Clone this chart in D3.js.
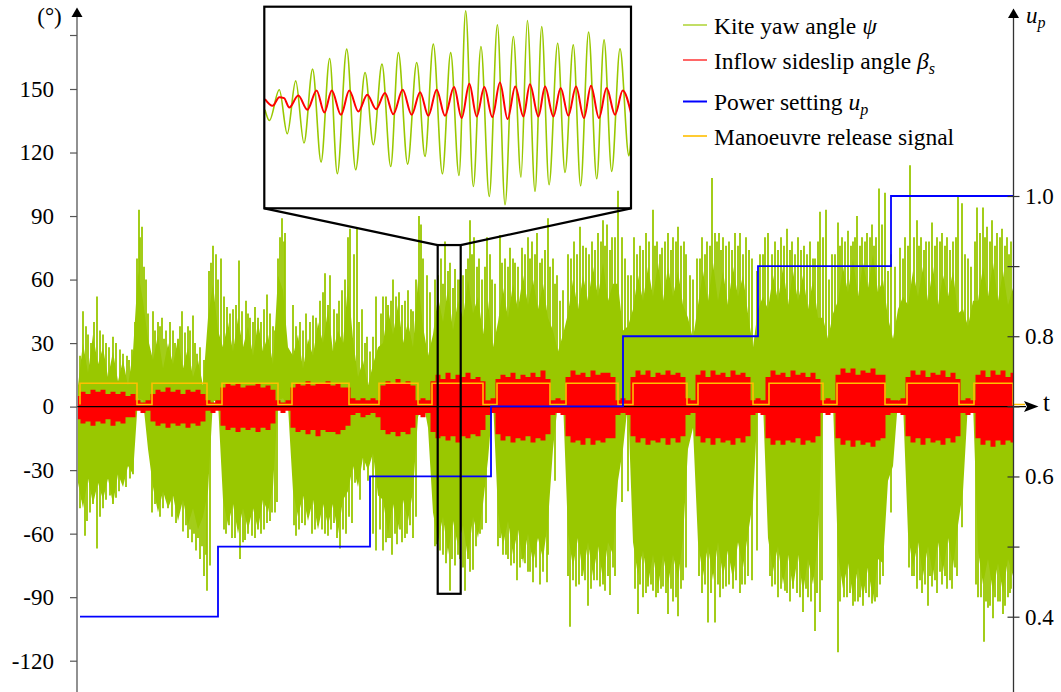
<!DOCTYPE html>
<html><head><meta charset="utf-8">
<script src="https://cdn.jsdelivr.net/npm/d3@7"></script>
<style>
body{margin:0;background:#fff}
svg{display:block}
</style>
</head><body>
<svg id="c" width="1061" height="692"></svg>
<script>
// ---------------- DATA ----------------
const sampleStart = 1, sampleStep = 5;
// kite yaw angle psi: dense-band upper / lower envelope (deg)
const yawHi = [
 10,30,16,34,20,28,14,26,12,22,10,26,
 64,50,32,
 22,34,18,30,20,32,18,28,14,22,10,
 42,58,36,
 28,40,26,42,28,38,24,40,26,34,20,
 62,55,28,
 24,34,18,32,24,40,30,46,26,36,30,58,
 32,14,22,10,20,28,
 30,46,34,48,30,40,28,
 60,38,24,
 34,52,40,56,36,50,42,60,44,52,34,
 50,28,
 40,56,42,58,46,62,48,60,46,58,42,
 36,26,34,
 44,60,46,62,50,66,52,68,50,58,
 58,36,38,
 46,62,50,66,52,68,50,66,52,64,48,
 42,32,
 48,64,50,68,50,64,48,66,52,62,44,
 28,46,52,
 46,62,50,66,48,64,50,62,46,60,42,
 42,32,44,
 50,66,54,70,52,68,56,72,54,60,
 42,32,46,52,
 48,64,52,66,50,66,48,62,52,64,44,
 46,38,50,
 50,66,52,68,50,64,48,56];
const yawLo = [
 -36,-48,-34,-46,-36,-44,-34,-46,-32,-38,-28,-32,
 4,3,-20,
 -38,-50,-40,-48,-42,-54,-44,-56,-48,-58,-52,
 -40,3,2,
 -44,-56,-46,-60,-48,-58,-48,-58,-44,-50,-38,
 3,4,0,
 -40,-52,-42,-54,-44,-58,-46,-56,-46,-60,-44,-40,
 -28,-38,-24,-30,-22,-42,
 -44,-60,-46,-58,-44,-54,-40,
 -5,3,-10,
 -50,-64,-52,-70,-54,-66,-56,-72,-52,-62,-46,
 -25,3,
 -50,-66,-54,-70,-58,-74,-60,-74,-62,-72,-54,
 -20,2,3,
 -60,-76,-62,-80,-64,-80,-66,-82,-64,-70,
 -35,-20,2,
 -64,-80,-68,-84,-70,-86,-70,-84,-70,-82,-62,
 -20,-10,
 -64,-80,-66,-82,-64,-80,-68,-82,-64,-76,-60,
 -45,3,2,
 -62,-78,-66,-84,-70,-86,-70,-88,-72,-84,-64,
 2,3,2,
 -70,-86,-74,-90,-76,-90,-76,-92,-72,-74,
 -35,-28,3,2,
 -60,-76,-64,-80,-66,-80,-64,-78,-62,-76,-56,
 -40,2,2,
 -68,-84,-72,-88,-74,-88,-72,-80];
// tallest individual yaw peaks [time, deg]
const yawPeaksUp = [
 [6,45],[11,34],[20,52],[23,36],[29,30],[36,33],[43,27],[50,24],[55,27],[60,70],[62,93],[65,85],[67,66],[71,44],
 [76,45],[81,40],[85,42],[89,36],[96,36],[101,32],[105,45],[111,38],[116,43],[120,25],[132,64],[136,76],[139,72],[144,70],
 [150,47],[156,46],[162,69],[169,50],[173,42],[178,47],[184,40],[190,53],[196,38],[203,80],[205,89],[208,82],
 [216,48],[223,40],[229,44],[236,43],[243,50],[248,63],[253,62],[260,44],[265,55],[271,80],[273,84],[280,84],
 [285,46],[290,33],[296,33],[299,52],[306,52],[311,48],[316,60],[319,52],[325,48],[331,55],[336,45],[342,90],[344,86],[350,62],
 [358,60],[364,70],[368,78],[373,68],[378,65],[383,60],[389,65],[393,88],[397,80],[402,70],[410,80],[413,72],[418,58],
 [423,81],[428,70],[433,75],[438,68],[445,75],[451,80],[455,78],[460,82],[465,70],[471,89],[476,70],[480,62],[486,55],
 [491,72],[497,78],[503,85],[509,75],[515,78],[521,82],[526,88],[530,86],[535,80],[541,102],[545,80],[551,62],
 [557,80],[563,76],[569,82],[576,93],[580,78],[585,75],[591,82],[596,80],[601,85],[607,78],[613,62],
 [620,70],[625,80],[630,78],[635,108],[638,82],[642,82],[646,80],[652,78],[658,82],[663,82],[669,80],[675,70],
 [683,72],[688,80],[691,82],[698,78],[704,80],[710,84],[715,78],[721,80],[727,76],[733,78],[738,70],[743,92],[749,93],
 [755,72],[761,87],[765,80],[771,83],[776,78],[780,90],[785,80],[790,82],[795,86],[799,80],[802,103],[808,101],
 [814,72],[823,75],[828,80],[833,114],[840,88],[844,80],[849,78],[855,87],[860,80],[865,82],[870,80],[876,78],[881,99],[885,96],
 [891,70],[900,94],[906,94],[910,85],[915,88],[920,82],[925,84],[930,80],[934,78]];
const yawPeaksDown = [
 [3,-48],[8,-61],[13,-50],[20,-67],[26,-48],[33,-42],[39,-43],[46,-36],[53,-34],
 [75,-50],[83,-52],[91,-48],[99,-55],[106,-59],[111,-62],[115,-64],[119,-68],[123,-72],[127,-80],[130,-87],[133,-75],
 [149,-60],[155,-62],[163,-72],[168,-63],[175,-61],[181,-58],[184,-60],[190,-55],[195,-50],[200,-45],
 [219,-61],[225,-55],[231,-52],[238,-58],[245,-58],[251,-61],[257,-55],[263,-67],[269,-60],[275,-55],
 [283,-44],[291,-35],[296,-60],[299,-68],[306,-68],[311,-62],[315,-70],[320,-65],[325,-64],[330,-60],[336,-62],
 [360,-65],[366,-70],[373,-87],[378,-75],[383,-72],[388,-87],[393,-78],[396,-77],[403,-60],[409,-55],
 [423,-62],[429,-70],[434,-75],[440,-82],[445,-72],[451,-78],[456,-83],[463,-84],[470,-83],[478,-35],
 [493,-104],[499,-85],[505,-80],[511,-94],[517,-82],[523,-85],[528,-87],[533,-89],[538,-80],
 [561,-98],[566,-90],[571,-85],[576,-87],[581,-88],[586,-85],[591,-98],[596,-92],[601,-99],[606,-82],
 [625,-88],[631,-102],[638,-102],[643,-90],[649,-85],[656,-86],[663,-88],[668,-84],[675,-82],[680,-68],
 [695,-85],[701,-90],[708,-87],[713,-92],[720,-88],[726,-97],[731,-90],[738,-106],[743,-97],
 [761,-116],[767,-90],[773,-88],[778,-92],[783,-90],[789,-88],[795,-93],[800,-90],[803,-84],[814,-50],
 [835,-80],[840,-86],[845,-88],[851,-94],[855,-85],[860,-88],[865,-84],[870,-86],[875,-86],[880,-80],[885,-57],
 [901,-90],[907,-111],[911,-95],[916,-100],[921,-92],[926,-98],[931,-90],[934,-86]];
// medium-height yaw strands [time, deg]
const yawStrandsUp = [
 [3,24],[9,38],[14,30],[17,40],[26,34],[32,28],[39,30],[46,25],[52,22],[58,40],[63,80],[69,60],
 [78,36],[83,38],[87,32],[93,40],[98,30],[103,38],[108,35],[113,36],[118,30],[123,28],[127,22],[134,68],[141,60],
 [147,52],[153,44],[159,48],[165,45],[171,44],[176,40],[181,42],[187,46],[193,44],[198,36],[201,70],[207,78],
 [219,38],[226,36],[233,40],[239,42],[246,54],[251,48],[257,46],[262,50],[268,60],[277,72],[282,40],[288,30],[293,26],
 [304,44],[309,52],[314,50],[322,54],[328,50],[334,46],[339,60],[346,70],[353,54],
 [361,62],[366,58],[371,64],[376,56],[381,60],[386,62],[391,70],[395,72],[400,66],[405,60],[408,66],[415,60],
 [425,68],[431,66],[436,70],[441,66],[448,72],[453,70],[458,72],[463,68],[468,74],[473,66],[478,58],[483,50],
 [494,70],[500,72],[506,76],[512,72],[518,74],[524,78],[528,76],[533,74],[538,80],[548,70],[554,62],
 [560,72],[566,74],[572,78],[578,76],[583,72],[588,78],[594,74],[599,78],[604,76],[609,72],[616,60],
 [623,70],[628,72],[633,76],[640,78],[644,74],[649,76],[655,74],[661,76],[666,72],[672,74],[680,64],[686,72],
 [695,72],[701,74],[707,76],[713,74],[718,72],[724,74],[730,72],[736,70],[741,78],[746,80],[752,60],[758,72],
 [763,76],[768,78],[774,76],[778,80],[783,76],[788,78],[793,80],[797,76],[805,86],[811,64],[818,66],[826,70],
 [831,76],[837,80],[842,76],[847,74],[852,78],[858,76],[863,78],[868,76],[873,74],[879,80],[888,72],[894,66],
 [898,78],[903,82],[908,80],[913,78],[918,76],[923,80],[928,76],[932,72]];
const yawStrandsDown = [
 [5,-44],[10,-54],[16,-46],[23,-52],[29,-44],[36,-46],[42,-40],[49,-38],[56,-32],
 [78,-46],[86,-48],[95,-52],[102,-50],[109,-56],[113,-58],[117,-60],[121,-62],[125,-66],[129,-70],
 [147,-58],[152,-56],[158,-62],[166,-64],[171,-60],[178,-62],[187,-58],[193,-54],[198,-50],
 [217,-56],[222,-58],[228,-56],[235,-60],[241,-56],[248,-60],[254,-58],[260,-62],[266,-58],[272,-52],[278,-36],[287,-30],
 [303,-58],[309,-64],[313,-62],[318,-60],[323,-58],[328,-62],[333,-56],[339,-52],
 [358,-66],[363,-68],[369,-74],[375,-72],[381,-70],[386,-76],[391,-72],[399,-66],[405,-58],
 [421,-66],[426,-70],[431,-72],[437,-74],[443,-76],[448,-74],[453,-78],[459,-76],[466,-78],[471,-70],
 [491,-80],[496,-82],[502,-84],[508,-82],[514,-86],[520,-82],[526,-84],[531,-80],[536,-76],[545,-45],[551,-40],
 [558,-86],[563,-84],[569,-88],[574,-84],[579,-90],[584,-86],[589,-88],[594,-86],[599,-90],[604,-86],[609,-76],
 [622,-80],[628,-84],[634,-88],[641,-84],[646,-86],[652,-84],[659,-82],[665,-84],[671,-80],
 [693,-80],[698,-84],[704,-86],[710,-88],[716,-86],[723,-90],[729,-86],[734,-92],[740,-88],[745,-82],
 [763,-92],[770,-90],[776,-94],[781,-92],[786,-94],[792,-90],[798,-92],[806,-80],
 [832,-76],[837,-80],[843,-82],[848,-84],[853,-80],[858,-82],[863,-78],[868,-80],[873,-82],[878,-76],
 [899,-84],[904,-90],[909,-92],[913,-94],[918,-90],[923,-92],[928,-94],[933,-88]];
// inflow sideslip angle beta_s: band upper / lower envelope (deg)
const sideslipHi = [
 5,7,6,8,7,8,6,7,6,7,5,6,
 3,2,3,
 6,8,7,9,7,8,6,8,7,8,6,
 3,2,3,
 9,11,10,11,9,10,10,11,9,10,8,
 3,2,3,
 9,11,10,12,10,11,11,12,10,11,9,9,
 4,3,4,3,4,3,
 10,12,11,13,11,12,10,
 3,4,3,
 12,15,13,16,13,15,14,16,13,14,12,
 3,4,
 13,15,14,16,13,15,14,16,14,17,13,
 3,4,3,
 14,17,15,16,14,17,15,16,16,14,
 3,4,3,
 14,17,15,17,14,16,15,17,15,16,14,
 4,3,
 15,17,14,17,15,16,14,17,15,16,14,
 3,4,3,
 14,17,15,16,14,17,15,16,14,16,13,
 3,4,3,
 15,18,16,18,15,17,16,18,15,15,
 4,3,3,4,
 14,17,15,17,14,16,15,17,14,16,13,
 3,4,3,
 15,17,14,17,15,17,14,16];
const sideslipLo = [
 -6,-8,-7,-9,-7,-8,-6,-9,-7,-8,-5,-5,
 -2,-3,-2,
 -7,-9,-8,-10,-8,-9,-8,-10,-8,-9,-7,
 -2,-3,-2,
 -9,-11,-10,-12,-10,-11,-10,-12,-10,-11,-8,
 -2,-3,-2,
 -10,-12,-11,-13,-11,-14,-11,-12,-12,-13,-11,-9,
 -4,-3,-5,-4,-3,-5,
 -11,-13,-12,-14,-12,-13,-10,
 -4,-5,-3,
 -12,-15,-14,-16,-14,-17,-14,-15,-13,-14,-11,
 -4,-3,
 -13,-16,-14,-17,-15,-16,-14,-17,-15,-16,-13,
 -4,-3,-4,
 -14,-17,-16,-18,-15,-18,-16,-17,-15,-15,
 -4,-3,-4,
 -14,-17,-15,-18,-16,-17,-15,-18,-15,-17,-14,
 -4,-3,
 -14,-17,-15,-18,-15,-17,-16,-18,-15,-17,-14,
 -4,-3,-4,
 -15,-18,-16,-18,-16,-17,-15,-18,-16,-17,-14,
 -3,-4,-3,
 -15,-18,-16,-19,-16,-18,-17,-19,-16,-15,
 -4,-3,-3,-4,
 -14,-17,-15,-18,-15,-17,-16,-18,-15,-17,-14,
 -3,-4,-3,
 -15,-18,-16,-19,-16,-18,-16,-17];
// manoeuvre release signal: high intervals [start, end] (time)
const releaseOn = [[3,60],[75,130],[145,201],[215,272],[302,341],[355,406],[420,473],[489,541],[556,610],[621,676],[692,746],[760,808],[830,882],[897,936]];
const releaseLevels = [1, 11];
const releaseEnd = 948;
// power setting u_p: step changes
const powerTimes  = [3, 141, 293, 414, 546, 681, 814, 936];
const powerValues = [0.4, 0.5, 0.6, 0.7, 0.8, 0.9, 1.0, 1.0];
// zoom window shown in the inset
const zoomWindowT = [360.7, 383.7];
const zoomWindowV = [-88.4, 76.3];
// inset (time relative to window start)
const insetYawT = [0.04,0.32,0.94,1.44,1.97,2.49,3.03,3.56,4.10,4.58,5.17,5.73,6.32,6.84,7.38,7.93,8.41,8.99,9.56,10.08,10.60,11.17,11.69,12.21,12.63,13.11,13.59,14.11,14.62,15.10,15.62,16.10,16.50,16.98,17.40,17.86,18.40,18.86,19.38,19.84,20.34,20.85,21.31,21.79,22.31,22.87,23.0];
const insetYawV = [-7.9,-16.7,8.4,-27.5,15.7,-35.1,25.3,-50.6,34,-60.2,41.6,-56.9,22.5,-36.5,29.4,-54.2,38.8,-52.3,30.7,-46.1,45.7,-60.2,38.8,-61.6,72.9,-70.6,43.8,-78.7,61.5,-85.5,51.9,-62.9,65,-74.6,60.1,-69.2,46.5,-59.1,45.1,-70,55.5,-64.3,49.2,-58.3,41.9,-45.5,-32.4];
const insetSlipT = [0.04,0.52,0.94,1.24,1.57,2.13,2.70,3.28,3.77,4.23,4.81,5.33,5.90,6.46,7.01,7.57,8.09,8.68,9.24,9.77,10.29,10.81,11.33,11.90,12.38,12.86,13.32,13.80,14.30,14.78,15.26,15.74,16.25,16.66,17.19,17.61,18.13,18.59,19.07,19.55,20.05,20.49,20.99,21.47,22.00,22.48,23.0];
const insetSlipV = [0.8,-4.7,2.4,1.6,-6.1,3.7,-7.9,7.8,-10.1,7.8,-12,7.8,-9.3,4.3,-7.4,5.7,-11.5,8.4,-12,6.5,-12.8,8.4,-12.8,10.6,-14.7,13.3,-13.4,10.6,-13.9,14.4,-15.5,11.1,-13.4,13,-13.4,11.1,-13.4,9.8,-12.8,11.1,-14.7,11.7,-14.7,9.8,-12,7.8,-10.6];
// axes
const leftTicks = [-120,-90,-60,-30,0,30,60,90,120,150];
const leftUnitTick = 175.5;
const rightTicks = [0.4,0.5,0.6,0.7,0.8,0.9,1.0];
const rightTickLabels = ["0.4","","0.6","","0.8","","1.0"];
const legendNames = ["Kite yaw angle ","Inflow sideslip angle ","Power setting ","Manoeuvre release signal"];
const legendSymbols = ["ψ","β","u",""];
const legendSubs = ["","s","p",""];

// ---------------- DRAW ----------------
const FONT = "'Liberation Serif','DejaVu Serif',serif";
const C = {yaw:"#99c800", slip:"#ff0000", power:"#0000ff", release:"#ffbf00", axis:"#555"};
const svg = d3.select("#c");
const x = d3.scaleLinear().domain([0, 940]).range([77, 1017]);
const y = d3.scaleLinear().domain([-120, 150]).range([660.7, 89.0]);
const yR = d3.scaleLinear().domain([0.4, 1.0]).range([616.7, 196]);
const AX_L = 77, AX_R = 1013.5;
const txt = (sel) => sel.style("font-family", FONT).attr("fill", "#000");

const samples = yawHi.map((h,i)=>({t: sampleStart + i*sampleStep, hi:h, lo:yawLo[i], rhi:sideslipHi[i], rlo:sideslipLo[i]}));

// ---- inset ----
const inset = {x0:264.3, x1:631, y0:6.7, y1:208.3};
const xi = d3.scaleLinear().domain([0, zoomWindowT[1]-zoomWindowT[0]]).range([inset.x0, inset.x1]);
const yi = d3.scaleLinear().domain(zoomWindowV).range([inset.y1, inset.y0]);
svg.append("clipPath").attr("id","ic").append("rect")
  .attr("x",inset.x0).attr("y",inset.y0).attr("width",inset.x1-inset.x0).attr("height",inset.y1-inset.y0);
const gi = svg.append("g").attr("clip-path","url(#ic)");
gi.append("path").datum(insetYawT.map((t,i)=>[t,insetYawV[i]]))
  .attr("fill","none").attr("stroke",C.yaw).attr("stroke-width",1.6)
  .attr("d", d3.line().x(d=>xi(d[0])).y(d=>yi(d[1])).curve(d3.curveMonotoneX));
gi.append("path").datum(insetSlipT.map((t,i)=>[t,insetSlipV[i]]))
  .attr("fill","none").attr("stroke",C.slip).attr("stroke-width",2)
  .attr("d", d3.line().x(d=>xi(d[0])).y(d=>yi(d[1])).curve(d3.curveMonotoneX));

// ---- main signals ----
svg.append("path").datum(samples).attr("fill",C.yaw)
  .attr("d", d3.area().x(d=>x(d.t)).y0(d=>y(d.lo)).y1(d=>y(d.hi)));
svg.append("g").selectAll("line")
  .data(yawPeaksUp.concat(yawPeaksDown, yawStrandsUp, yawStrandsDown)).join("line")
  .attr("x1",d=>x(d[0])).attr("x2",d=>x(d[0])).attr("y1",y(0)).attr("y2",d=>y(d[1]))
  .attr("stroke",C.yaw).attr("stroke-width",1.8);
svg.append("path").datum(samples).attr("fill",C.slip)
  .attr("d", d3.area().x(d=>x(d.t)).y0(d=>y(d.rlo)).y1(d=>y(d.rhi)).curve(d3.curveStep));

const relPts = [];
releaseOn.forEach(([a,b])=>{ relPts.push([a,releaseLevels[0]],[a,releaseLevels[1]],[b,releaseLevels[1]],[b,releaseLevels[0]]); });
relPts.push([releaseEnd, releaseLevels[0]]);

// ---- axes ----
const y0 = y(0);
svg.append("line").attr("x1",AX_L).attr("x2",1026).attr("y1",y0).attr("y2",y0).attr("stroke","#000").attr("stroke-width",1.3);
svg.append("path").datum(relPts).attr("fill","none").attr("stroke",C.release).attr("stroke-width",1.6)
  .attr("d", d3.line().x(d=>x(d[0])).y(d=>y(d[1])));
svg.append("path").attr("d",`M1038.5,${y0} L1024,${y0-5.5} L1027,${y0} L1024,${y0+5.5} Z`).attr("fill","#000");
txt(svg.append("text")).attr("x",1043).attr("y",y0+4).attr("font-size",25).text("t");

svg.append("path").datum(powerTimes.map((t,i)=>[t,powerValues[i]]))
  .attr("fill","none").attr("stroke",C.power).attr("stroke-width",1.8)
  .attr("d", d3.line().x(d=>x(d[0])).y(d=>yR(d[1])).curve(d3.curveStepAfter));

const gL = svg.append("g").attr("transform",`translate(${AX_L},0)`)
  .call(d3.axisLeft(y).tickValues(leftTicks.concat([leftUnitTick])).tickSize(7).tickPadding(16)
    .tickFormat(d => d===leftUnitTick ? "" : String(d)));
gL.select(".domain").remove();
gL.selectAll(".tick line").attr("stroke",C.axis).attr("stroke-width",1.2);
txt(gL.selectAll(".tick text")).attr("font-size",23);
svg.append("line").attr("x1",AX_L).attr("x2",AX_L).attr("y1",692).attr("y2",14).attr("stroke",C.axis).attr("stroke-width",1.3);
svg.append("path").attr("d",`M${AX_L},7.5 L${AX_L-5.5},17 L${AX_L+5.5},17 Z`).attr("fill","#000");
txt(svg.append("text")).attr("x",49.5).attr("y",24).attr("text-anchor","middle").attr("font-size",23).text("(°)");

const gR = svg.append("g").attr("transform",`translate(${AX_R},0)`)
  .call(d3.axisRight(yR).tickValues(rightTicks).tickSize(6).tickPadding(5.5)
    .tickFormat((d,i)=>rightTickLabels[i]));
gR.select(".domain").remove();
gR.selectAll(".tick line").attr("x1",-6).attr("stroke","#333").attr("stroke-width",1.2);
txt(gR.selectAll(".tick text")).attr("font-size",23);
svg.append("line").attr("x1",AX_R).attr("x2",AX_R).attr("y1",692).attr("y2",15).attr("stroke","#333").attr("stroke-width",1.3);
svg.append("path").attr("d",`M${AX_R},8.5 L${AX_R-5.5},18 L${AX_R+5.5},18 Z`).attr("fill","#000");
const up = txt(svg.append("text")).attr("x",1026).attr("y",23).attr("font-size",23);
up.append("tspan").attr("font-style","italic").text("u");
up.append("tspan").attr("font-style","italic").attr("font-size",16).attr("dy",5).text("p");

// ---- inset box, zoom window, connectors ----
svg.append("rect").attr("x",inset.x0).attr("y",inset.y0).attr("width",inset.x1-inset.x0).attr("height",inset.y1-inset.y0)
  .attr("fill","none").attr("stroke","#000").attr("stroke-width",2.2);
const zx0 = x(zoomWindowT[0]), zx1 = x(zoomWindowT[1]), zy0 = y(zoomWindowV[1]), zy1 = y(zoomWindowV[0]);
svg.append("rect").attr("x",zx0).attr("y",zy0).attr("width",zx1-zx0).attr("height",zy1-zy0)
  .attr("fill","none").attr("stroke","#000").attr("stroke-width",2.2);
svg.append("line").attr("x1",inset.x0).attr("y1",inset.y1).attr("x2",zx0).attr("y2",zy0).attr("stroke","#000").attr("stroke-width",2.2);
svg.append("line").attr("x1",inset.x1).attr("y1",inset.y1).attr("x2",zx1).attr("y2",zy0).attr("stroke","#000").attr("stroke-width",2.2);

// ---- legend ----
const legColors = [C.yaw, C.slip, C.power, C.release];
const legWidths = [1.2, 1.2, 2, 1.6];
const legY = [25, 60, 101.5, 136];
legendNames.forEach((nm,i)=>{
  svg.append("line").attr("x1",683).attr("x2",707).attr("y1",legY[i]).attr("y2",legY[i])
    .attr("stroke",legColors[i]).attr("stroke-width",legWidths[i]);
  const t = txt(svg.append("text")).attr("x",714).attr("y",legY[i]+8.5).attr("font-size",23.5);
  t.append("tspan").text(nm);
  if (legendSymbols[i]) t.append("tspan").attr("font-style","italic").text(legendSymbols[i]);
  if (legendSubs[i]) t.append("tspan").attr("font-style","italic").attr("font-size",16).attr("dy",5).text(legendSubs[i]);
});
</script>
</body></html>
